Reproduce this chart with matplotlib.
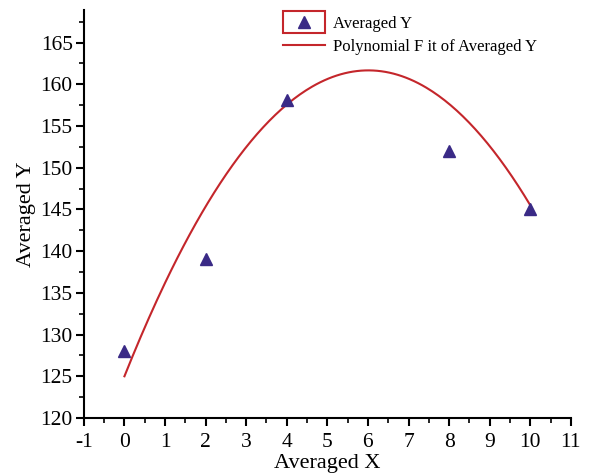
import numpy as np
import matplotlib.pyplot as plt
from matplotlib.patches import Rectangle
from matplotlib.ticker import MultipleLocator

plt.rcParams['font.family'] = ['Liberation Serif', 'DejaVu Serif']
plt.rcParams['axes.unicode_minus'] = False

# averaged data points
avg_x = [0, 2, 4, 8, 10]
avg_y = [128, 139, 158.1, 152, 145]

# quadratic fit coefficients
fit_coef = [-1.015, 12.2, 125.0]
fit_range = [0, 10]

x_ticks = list(range(-1, 12))
y_ticks = list(range(120, 170, 5))

red = '#c4262b'
purple = '#3a2a86'

fig = plt.figure(figsize=(5.99, 4.75), dpi=100)
ax = fig.add_axes([0.140, 0.120, 0.813, 0.859])

xs = np.linspace(fit_range[0], fit_range[1], 200)
ax.plot(xs, np.polyval(fit_coef, xs), color=red, lw=1.5,
        label='Polynomial F it of Averaged Y', zorder=2)
ax.plot(avg_x, avg_y, linestyle='none', marker='^', ms=9, color=purple,
        label='Averaged Y', zorder=3)

ax.set_xlim(-1, 11)
ax.set_ylim(120, 168.9)
ax.set_xticks(x_ticks)
ax.set_yticks(y_ticks)
ax.xaxis.set_minor_locator(MultipleLocator(0.5))
ax.yaxis.set_minor_locator(MultipleLocator(2.5))
ax.spines['top'].set_visible(False)
ax.spines['right'].set_visible(False)
for s in ['left', 'bottom']:
    ax.spines[s].set_linewidth(1.5)
ax.tick_params(which='major', direction='out', length=6, width=1.5, labelsize=15.5, pad=2)
ax.tick_params(axis='x', which='major', pad=5)
ax.tick_params(which='minor', direction='out', length=3.5, width=1.2)
ax.set_xlabel('Averaged X', fontsize=16, labelpad=1.5)
ax.set_ylabel('Averaged Y', fontsize=16, labelpad=3)

h, l = ax.get_legend_handles_labels()
leg = fig.legend(h[::-1], l[::-1], loc='upper left', numpoints=1,
                 bbox_to_anchor=(283 / 599, 1 - 16 / 475),
                 frameon=False, fontsize=12, handlelength=2.5, handletextpad=0.5,
                 labelspacing=0.4, borderpad=0, borderaxespad=0)
# red box round the marker entry
fig.patches.append(Rectangle((283 / 599, 1 - 33 / 475), 42 / 599, 22 / 475,
                             transform=fig.transFigure, fill=False, ec=red, lw=1.5))

fig.savefig('out.png', dpi=100)
